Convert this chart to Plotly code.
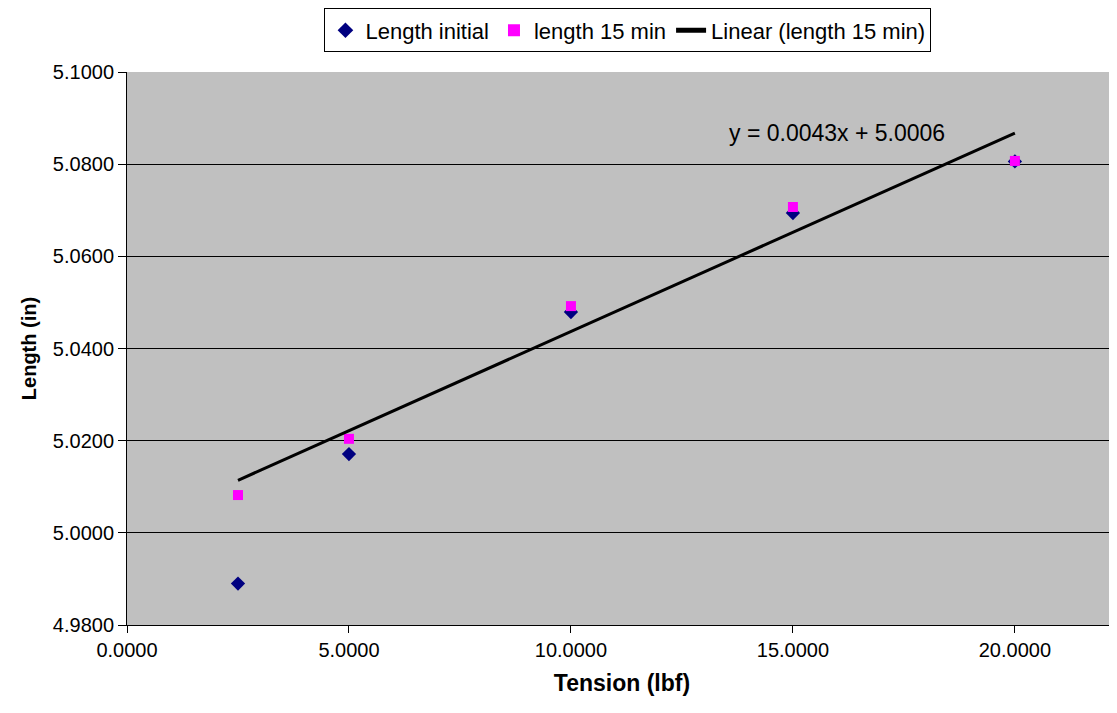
import numpy as np
import plotly.graph_objects as go

tension = [2.5, 5.0, 10.0, 15.0, 20.0]
length_initial = [4.9890, 5.0171, 5.0479, 5.0694, 5.0806]
length_15min = [5.0082, 5.0204, 5.0492, 5.0707, 5.0807]

# linear trendline on the 15 min series
slope, intercept = np.polyfit(tension, length_15min, 1)
trend_x = [min(tension), max(tension)]
trend_y = [slope * x + intercept for x in trend_x]

fig = go.Figure()

fig.add_trace(go.Scatter(
    x=tension, y=length_initial, mode='markers', name='Length initial',
    marker=dict(symbol='diamond', size=11, color='#000080')
))
fig.add_trace(go.Scatter(
    x=tension, y=length_15min, mode='markers', name='length 15 min',
    marker=dict(symbol='square', size=10, color='#FF00FF')
))
fig.add_trace(go.Scatter(
    x=trend_x, y=trend_y, mode='lines', name='Linear (length 15 min)',
    line=dict(color='black', width=3)
))

fig.add_annotation(
    x=16.0, y=5.0868, xref='x', yref='y',
    text=f"y = {slope:.4f}x + {intercept:.4f}",
    showarrow=False, font=dict(size=23, color='black')
)

# page body has an 8px margin, so the figure is shrunk by that amount
fig.update_layout(
    width=1109, height=705,
    margin=dict(l=119, r=0, t=64, b=88),
    paper_bgcolor='white',
    plot_bgcolor='#C0C0C0',
    font=dict(family='Liberation Sans, Arial, sans-serif', color='black'),
    showlegend=True,
    legend=dict(
        orientation='h', xref='paper', yref='paper',
        x=0.506, xanchor='center', y=1.115, yanchor='top',
        bordercolor='black', borderwidth=1, bgcolor='white',
        font=dict(size=22), itemsizing='constant'
    ),
    xaxis=dict(
        range=[0, 22.3], tickvals=[0, 5, 10, 15, 20], tickformat='.4f',
        showgrid=False, zeroline=False, showline=True, linecolor='black',
        ticks='outside', ticklen=7, tickcolor='black',
        tickfont=dict(size=20),
        title=dict(text='<b>Tension (lbf)</b>', font=dict(size=23), standoff=14)
    ),
    yaxis=dict(
        range=[4.98, 5.1], dtick=0.02, tickformat='.4f',
        showgrid=True, gridcolor='black', gridwidth=1,
        zeroline=False, showline=True, linecolor='black',
        ticks='outside', ticklen=8, tickcolor='black',
        tickfont=dict(size=20),
        title=dict(text='<b>Length (in)</b>', font=dict(size=20), standoff=10)
    )
)

fig.write_html("out.html")
